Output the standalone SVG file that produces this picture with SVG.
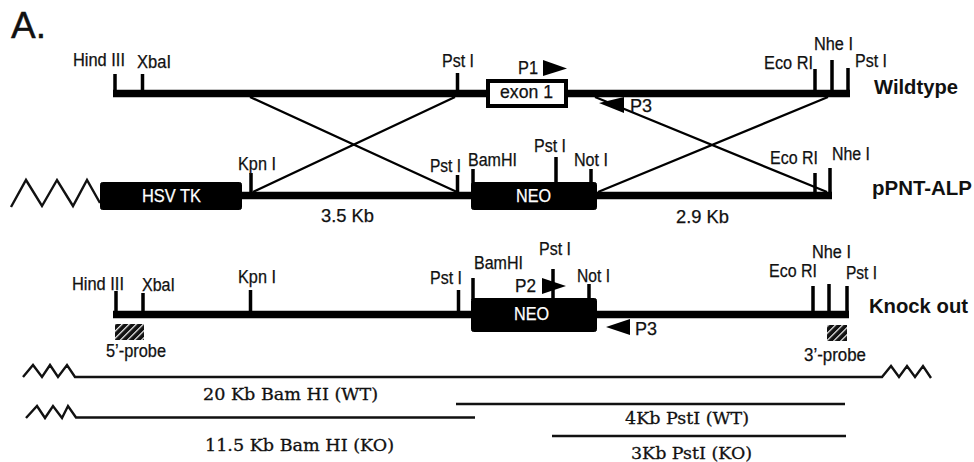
<svg xmlns="http://www.w3.org/2000/svg" width="974" height="462" viewBox="0 0 974 462">
<style>
.s{font-family:"Liberation Sans",Arial,sans-serif;font-size:17.5px;fill:#111;stroke:#111;stroke-width:.25}
.w{fill:#fff;stroke:#fff}
.b{font-family:"Liberation Sans",Arial,sans-serif;font-size:20px;font-weight:bold;fill:#111}
.r{font-family:"DejaVu Serif","Liberation Serif",serif;font-size:17px;fill:#111;stroke:#111;stroke-width:.3}
.bk{stroke:#000;stroke-width:7.5;fill:none}
.tk{stroke:#000;stroke-width:3.5;fill:none}
.x{stroke:#000;stroke-width:2.3;fill:none}
.l{stroke:#111;stroke-width:2.4;fill:none}
.z{stroke:#111;stroke-width:2.4;fill:none;stroke-linejoin:miter}
.box{fill:#000;stroke:#000;stroke-width:1}
</style>
<defs>
<pattern id="hatch" width="5" height="5" patternUnits="userSpaceOnUse" patternTransform="rotate(45)">
<rect width="5" height="5" fill="#111"/><rect width="1.2" height="5" fill="#fff"/>
</pattern>
</defs>
<rect width="974" height="462" fill="#fff"/>
<text x="11" y="38" style="font-family:'Liberation Sans',sans-serif;font-size:36px;fill:#111;stroke:#111;stroke-width:.4" textLength="35" lengthAdjust="spacingAndGlyphs">A.</text>

<g id="connectors">
<path class="bk" d="M113 93.500H850"/>
<path class="bk" d="M242 195.500H832"/>
<path class="bk" d="M113 314.500H849"/>
<path class="x" d="M250 97L457 192M253 192L455 97M595 97L827 192M598 192L828 97"/>
<path class="tk" d="M115 74V92M142.500 74V92M457.500 73V92M815 69V92M832 60V92M848 68V92"/>
<path class="tk" d="M251 173V194M457.500 175V194M473 169V190M556 157V184M591 169V184M815 173V194M830 168V194"/>
<path class="tk" d="M116 291V314M143 293V314M250.500 290V314M458.500 290V314M473 278V300M553 269V300M589 284V300M813 286V314M829 284V314M847 286V314"/>
<path class="z" d="M11 207L26 180L42 206L57 180L73 206L87 180L100 203"/>
<path class="z" d="M23 377L33 365L42 377L50 365L58 377L67 365L75 377H882L891 366L899 377L907 366L915 377L923 366L931 378"/>
<path class="z" d="M26 418L37 406L45 418L53 406L62 418L68 406L76 417.500H475"/>
<path class="l" d="M456 404H845"/>
<path class="l" d="M552 436H846"/>
</g>

<g id="exon1"><rect x="488" y="81" width="78" height="25" fill="#fff" stroke="#000" stroke-width="4"/><text class="s" x="500" y="98" textLength="53" lengthAdjust="spacingAndGlyphs">exon 1</text></g>
<g id="hsvtk"><rect class="box" x="100.500" y="182.500" width="141" height="27" rx="2"/><text class="s w" x="142" y="202" textLength="59" lengthAdjust="spacingAndGlyphs">HSV TK</text></g>
<g id="neo-vector"><rect class="box" x="471.500" y="182.500" width="125" height="27" rx="2"/><text class="s w" x="516" y="202" textLength="35" lengthAdjust="spacingAndGlyphs">NEO</text></g>
<g id="neo-ko"><rect class="box" x="471.500" y="298.500" width="125" height="33" rx="2"/><text class="s w" x="514" y="320" textLength="35" lengthAdjust="spacingAndGlyphs">NEO</text></g>
<g id="probe5"><rect x="115" y="324" width="29" height="16" fill="url(#hatch)"/><text class="s" x="106" y="357" textLength="60" lengthAdjust="spacingAndGlyphs">5’-probe</text></g>
<g id="probe3"><rect x="827" y="325" width="20" height="16" fill="url(#hatch)"/><text class="s" x="804" y="361" textLength="62" lengthAdjust="spacingAndGlyphs">3’-probe</text></g>

<g id="p1"><path d="M543 60L567 68.500L543 76Z" fill="#000"/><text class="s" x="518" y="74" textLength="20" lengthAdjust="spacingAndGlyphs">P1</text></g>
<g id="p3-wt"><path d="M599 103L624 97V113Z" fill="#000"/><text class="s" x="630" y="112" textLength="22" lengthAdjust="spacingAndGlyphs">P3</text></g>
<g id="p2"><path d="M542 278L566 286L542 294Z" fill="#000"/><text class="s" x="515" y="292" textLength="21" lengthAdjust="spacingAndGlyphs">P2</text></g>
<g id="p3-ko"><path d="M606 327L630 319V335Z" fill="#000"/><text class="s" x="635" y="335" textLength="22" lengthAdjust="spacingAndGlyphs">P3</text></g>

<g id="sites-wt">
<text class="s" x="73" y="66" textLength="52" lengthAdjust="spacingAndGlyphs">Hind III</text>
<text class="s" x="137" y="68" textLength="34" lengthAdjust="spacingAndGlyphs">XbaI</text>
<text class="s" x="442" y="67" textLength="32" lengthAdjust="spacingAndGlyphs">Pst I</text>
<text class="s" x="764" y="69" textLength="49" lengthAdjust="spacingAndGlyphs">Eco RI</text>
<text class="s" x="814" y="50" textLength="39" lengthAdjust="spacingAndGlyphs">Nhe I</text>
<text class="s" x="855" y="67" textLength="32" lengthAdjust="spacingAndGlyphs">Pst I</text>
</g>
<g id="sites-vector">
<text class="s" x="238" y="170" textLength="38" lengthAdjust="spacingAndGlyphs">Kpn I</text>
<text class="s" x="430" y="172" textLength="31" lengthAdjust="spacingAndGlyphs">Pst I</text>
<text class="s" x="468" y="166" textLength="49" lengthAdjust="spacingAndGlyphs">BamHI</text>
<text class="s" x="534" y="152" textLength="32" lengthAdjust="spacingAndGlyphs">Pst I</text>
<text class="s" x="574" y="166" textLength="34" lengthAdjust="spacingAndGlyphs">Not I</text>
<text class="s" x="770" y="164" textLength="48" lengthAdjust="spacingAndGlyphs">Eco RI</text>
<text class="s" x="832" y="160" textLength="38" lengthAdjust="spacingAndGlyphs">Nhe I</text>
<text class="s" x="321" y="222" textLength="53" lengthAdjust="spacingAndGlyphs">3.5 Kb</text>
<text class="s" x="676" y="223" textLength="53" lengthAdjust="spacingAndGlyphs">2.9 Kb</text>
</g>
<g id="sites-ko">
<text class="s" x="72" y="290" textLength="52" lengthAdjust="spacingAndGlyphs">Hind III</text>
<text class="s" x="142" y="291" textLength="33" lengthAdjust="spacingAndGlyphs">XbaI</text>
<text class="s" x="238" y="283" textLength="38" lengthAdjust="spacingAndGlyphs">Kpn I</text>
<text class="s" x="430" y="284" textLength="32" lengthAdjust="spacingAndGlyphs">Pst I</text>
<text class="s" x="474" y="269" textLength="49" lengthAdjust="spacingAndGlyphs">BamHI</text>
<text class="s" x="539" y="255" textLength="32" lengthAdjust="spacingAndGlyphs">Pst I</text>
<text class="s" x="577" y="282" textLength="33" lengthAdjust="spacingAndGlyphs">Not I</text>
<text class="s" x="769" y="277" textLength="48" lengthAdjust="spacingAndGlyphs">Eco RI</text>
<text class="s" x="812" y="258" textLength="39" lengthAdjust="spacingAndGlyphs">Nhe I</text>
<text class="s" x="846" y="279" textLength="31" lengthAdjust="spacingAndGlyphs">Pst I</text>
</g>
<g id="row-labels">
<text class="b" x="874" y="94" textLength="84" lengthAdjust="spacingAndGlyphs">Wildtype</text>
<text class="b" x="872" y="195" textLength="100" lengthAdjust="spacingAndGlyphs">pPNT-ALP</text>
<text class="b" x="869" y="313" textLength="99" lengthAdjust="spacingAndGlyphs">Knock out</text>
</g>
<g id="fragments">
<text class="r" x="203" y="400" textLength="175" lengthAdjust="spacingAndGlyphs">20 Kb Bam HI (WT)</text>
<text class="r" x="205" y="451" textLength="189" lengthAdjust="spacingAndGlyphs">11.5 Kb Bam HI (KO)</text>
<text class="r" x="625" y="424" textLength="124" lengthAdjust="spacingAndGlyphs">4Kb PstI (WT)</text>
<text class="r" x="631" y="459" textLength="121" lengthAdjust="spacingAndGlyphs">3Kb PstI (KO)</text>
</g>
</svg>
